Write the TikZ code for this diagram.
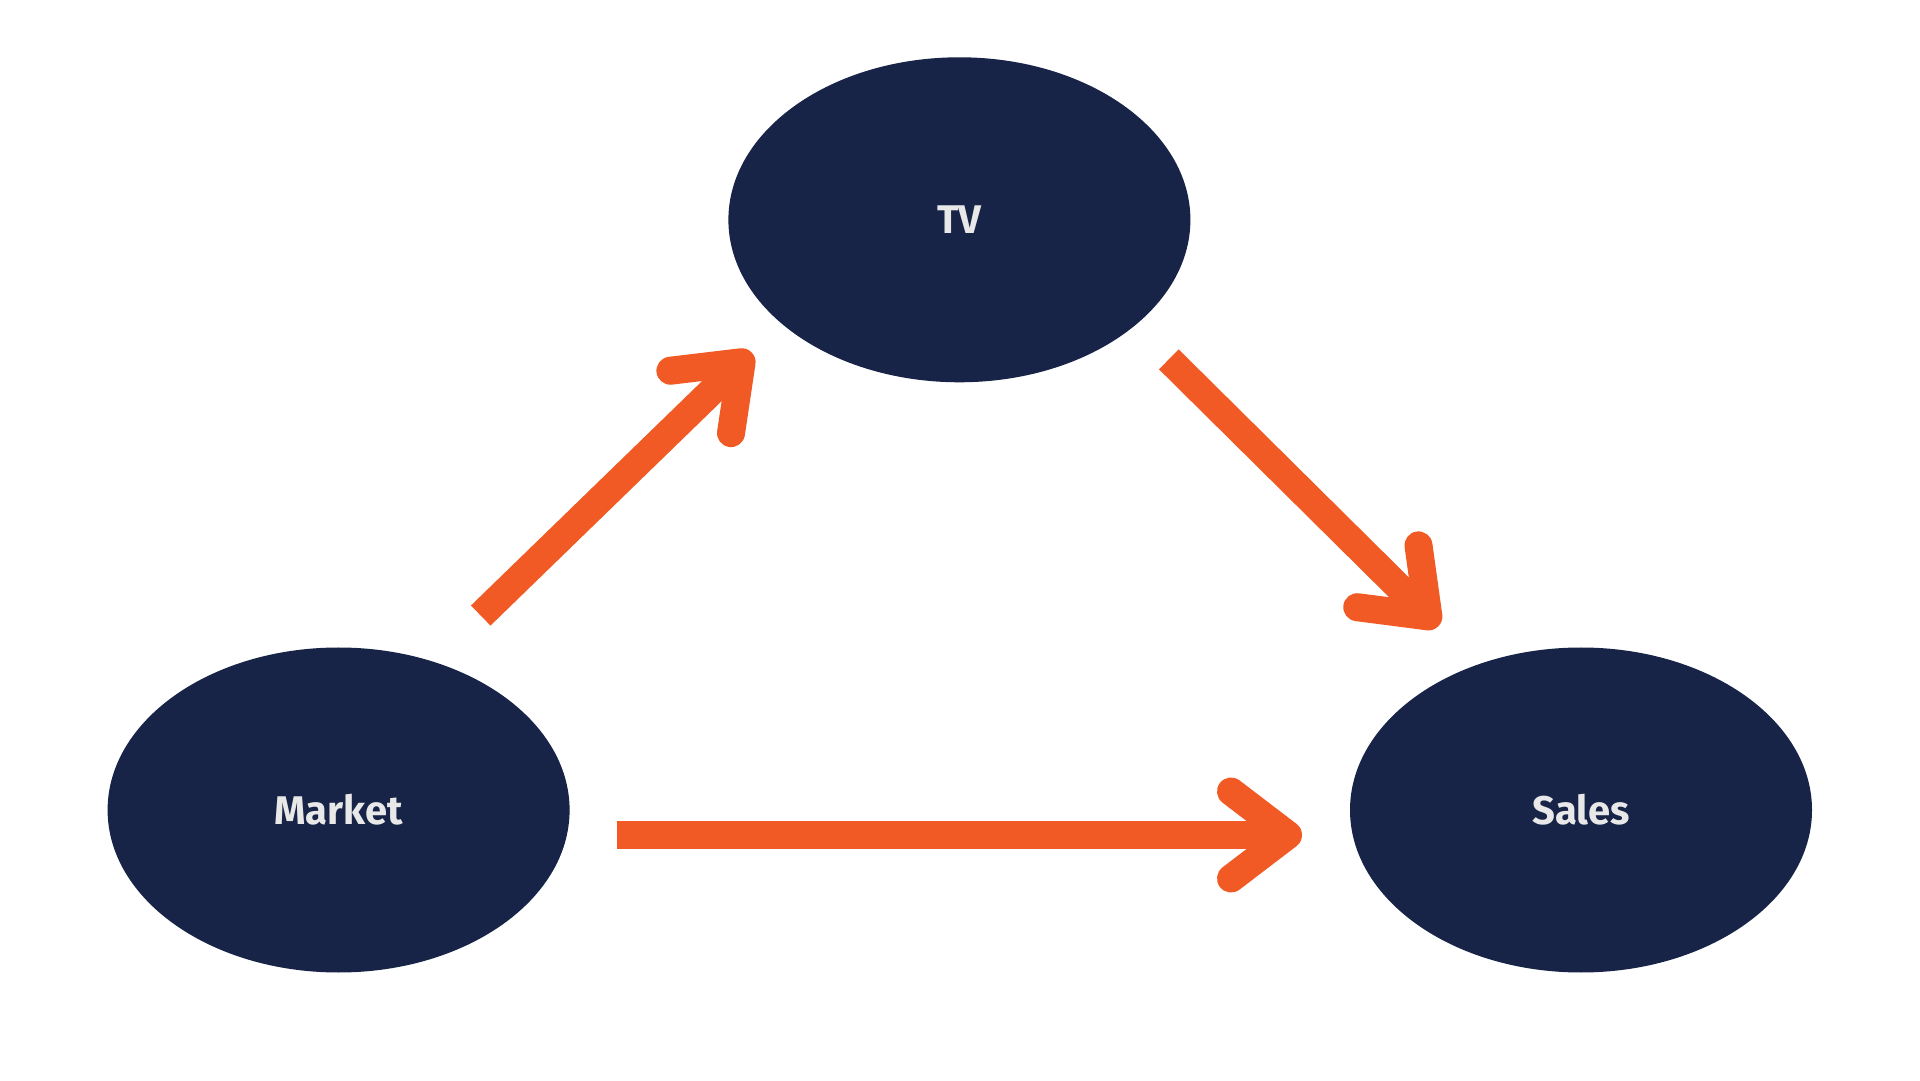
\documentclass[tikz,border=0pt]{standalone}
\usepackage{fontspec}
\setmainfont{Fira Sans}
\usetikzlibrary{arrows.meta,calc,shapes.geometric}
\definecolor{navy}{HTML}{172347}
\definecolor{flame}{HTML}{F15A24}
\definecolor{paper}{HTML}{E8E8E8}

\begin{document}
\begin{tikzpicture}[
  x=1pt, y=1pt,
  blob/.style={ellipse, fill=navy, draw=none, inner sep=0pt, minimum width=462pt, minimum height=325pt,
    text=paper, font=\fontsize{40}{48}\selectfont\bfseries},
  arr/.style={draw=flame, line width=28pt, -{Straight Barb[length=57pt, width=87pt, round]}}
]
\useasboundingbox[fill=white] (0,0) rectangle (1920,1080);
\def\xM{338.6}\def\xT{959.4}\def\xS{1581}
\def\ylo{270}\def\yhi{860.2}

% nodes
\node[blob] (tv)    at (\xT,\yhi) {TV};
\node[blob] (mkt)   at (\xM,\ylo) {Market};
\node[blob] (sales) at (\xS,\ylo) {Sales};

% arrows
\draw[arr] ($(mkt.center)!237pt!(tv.center)!43pt!90:(tv.center)$) -- ($(tv.center)!242pt!(mkt.center)!47pt!-90:(mkt.center)$);
\draw[arr] ($(tv.center)!248pt!(sales.center)!43pt!90:(sales.center)$) -- ($(sales.center)!230pt!(tv.center)!35pt!-90:(tv.center)$);
\draw[arr] ($(mkt.center)!278pt!(sales.center)!25pt!-90:(sales.center)$) -- ($(sales.center)!279pt!(mkt.center)!25pt!90:(mkt.center)$);

\end{tikzpicture}
\end{document}
